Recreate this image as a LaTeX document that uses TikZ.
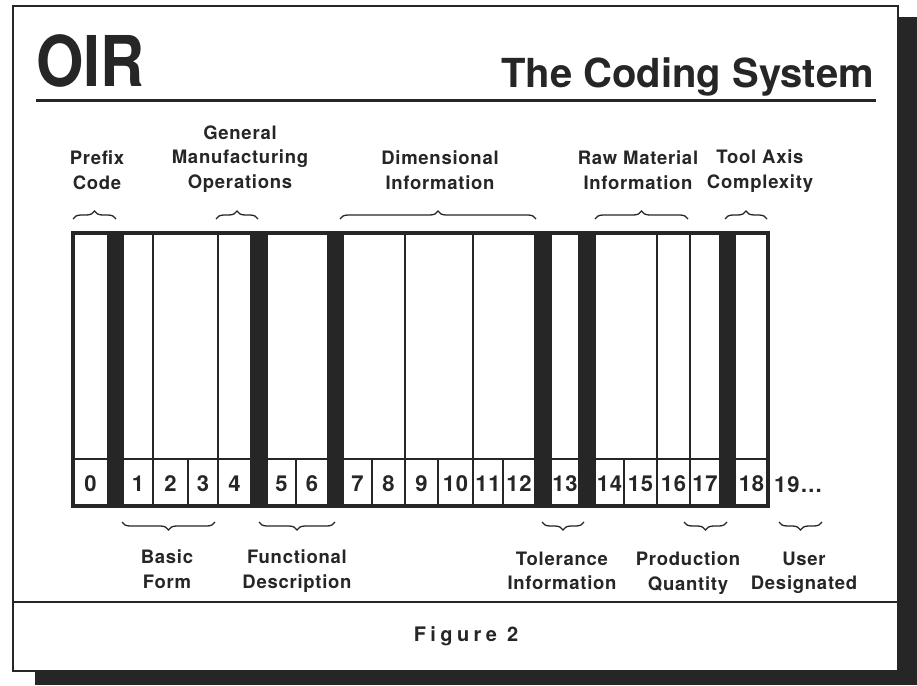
\documentclass[tikz,border=0pt]{standalone}
\usepackage{fontspec}
\setmainfont{TeX Gyre Heros}
\newfontfamily\lblfont[LetterSpace=4]{TeX Gyre Heros}
\newfontfamily\capfont[LetterSpace=22]{TeX Gyre Heros}
\usepackage{tikz}
\usetikzlibrary{decorations.pathreplacing}
\definecolor{ink}{HTML}{262626}
\tikzset{
  frame/.style={draw=ink,line width=2.8pt,fill=white},
  rule/.style={draw=ink,line width=2.8pt},
  slot/.style={draw=ink,line width=1.6pt},
  cell/.style={draw=ink,line width=1.6pt,fill=white},
  bar/.style={fill=ink},
  digit/.style={font=\lblfont\bfseries\fontsize{22}{26}\selectfont,text=ink,inner sep=0pt},
  lbl/.style={font=\lblfont\bfseries\fontsize{18.5}{24.5}\selectfont,text=ink,align=center,inner sep=0pt},
  upbrace/.style={draw=ink,line width=1.3pt,decorate,decoration={brace,amplitude=8pt}},
  dnbrace/.style={draw=ink,line width=1.3pt,decorate,decoration={brace,amplitude=8pt,mirror}},
}
\begin{document}
\begin{tikzpicture}[x=1pt,y=-1pt]
  \useasboundingbox (0,0) rectangle (917,685);
  % sheet with shadow
  \fill[ink] (35,17) rectangle (917,685);
  \draw[frame] (13,6) rectangle (898,671);
  \draw[rule] (13,602) -- (898,602);
  % heading
  \node[font=\bfseries\fontsize{70}{72}\selectfont,text=ink,anchor=base west,inner sep=0pt,xscale=.87] (oir) at (36,86) {OIR};
  \node[font=\bfseries\fontsize{40}{44}\selectfont,text=ink,anchor=base east,inner sep=0pt] (title) at (874,87) {The Coding System};
  \draw[line width=3pt,ink] (36,100) -- (876,100);
  % code positions
  \foreach \a/\b in {73/108,123/153,153/218,218/251,267/328,343/405,405/473,473/535,551/579,595/657,657/690,690/720,735/768}{
    \draw[slot] (\a,233) rectangle (\b,459);
  }
  \foreach \n/\a/\b in {0/73/108,1/123/153,2/153/188,3/188/218,4/218/251,5/267/296,6/296/328,7/343/372,8/372/405,9/405/438,10/438/473,11/473/503,12/503/535,13/551/579,14/595/624,15/624/657,16/657/690,17/690/720,18/735/768}{
    \draw[cell] (\a,459) rectangle (\b,506);
    \node[digit] (d\n) at ({(\a+\b)/2},484) {\n};
  }
  \foreach \a/\b in {108/123,251/267,328/343,535/551,579/595,720/735}{
    \fill[bar] (\a,233) rectangle (\b,506);
  }
  \draw[draw=ink,line width=3.2pt] (73,233) rectangle (768,506);
  \node[digit,anchor=west] (more) at (774,485) {19…};
  % upper groups
  \node[lbl] (prefix) at (97,170) {Prefix\\Code};
  \node[lbl] (genmfg) at (240,159) {General\\Manufacturing\\Operations};
  \node[lbl] (dim) at (440,170) {Dimensional\\Information};
  \node[lbl] (raw) at (638,170) {Raw Material\\Information};
  \node[lbl] (tool) at (760,171) {Tool Axis\\Complexity};
  \draw[upbrace] (73,219) -- (116,219);
  \draw[upbrace] (216,219) -- (258,219);
  \draw[upbrace] (340,219) -- (536,219);
  \draw[upbrace] (595,219) -- (688,219);
  \draw[upbrace] (725,219) -- (767,219);
  % lower groups
  \draw[dnbrace] (122,522) -- (215,522);
  \draw[dnbrace] (259,522) -- (335,522);
  \draw[dnbrace] (542,522) -- (584,522);
  \draw[dnbrace] (684,522) -- (727,522);
  \draw[dnbrace] (779,522) -- (822,522);
  \node[lbl] (basic) at (167,569) {Basic\\Form};
  \node[lbl] (func) at (297,571) {Functional\\Description};
  \node[lbl] (tol) at (562,571) {Tolerance\\Information};
  \node[lbl] (prod) at (688,573) {Production\\Quantity};
  \node[lbl] (user) at (804,573) {User\\Designated};
  % caption
  \node[font=\capfont\bfseries\fontsize{20}{24}\selectfont,text=ink] (fig) at (466,636) {Figure 2};
\end{tikzpicture}
\end{document}
